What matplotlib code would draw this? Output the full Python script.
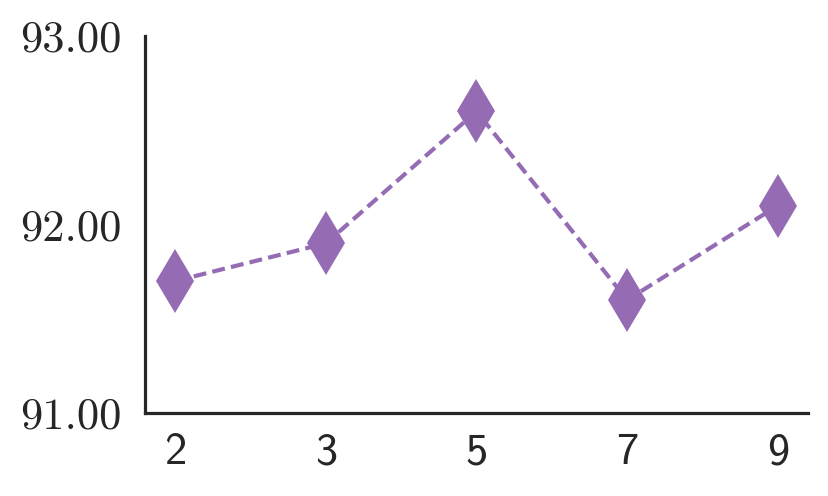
import os
import matplotlib
matplotlib.use("Agg")
import matplotlib.pyplot as plt
from matplotlib.font_manager import FontProperties

categories = ["2", "3", "5", "7", "9"]
values = [91.70, 91.90, 92.60, 91.60, 92.10]
yticks = [91.0, 92.0, 93.0]

fdir = os.path.join(matplotlib.get_data_path(), 'fonts', 'ttf')
serif_fp = FontProperties(fname=os.path.join(fdir, 'cmr10.ttf'), size=32)
sans_fp = FontProperties(fname=os.path.join(fdir, 'cmss10.ttf'), size=32)

fig = plt.figure(figsize=(8.29, 4.96), dpi=100)
ax = fig.add_axes([145/829, 1 - 413/496, (808-145)/829, (413-36)/496])

xs = list(range(len(categories)))
ax.plot(xs, values, linestyle='--', color='#956cb4', linewidth=3,
        marker='d', markersize=33, markeredgewidth=0, dashes=(3.1, 1.5))

ax.set_xlim(-0.2, 4.2)
ax.set_ylim(91.0, 93.0)
ax.set_xticks(xs)
ax.set_xticklabels(categories, fontproperties=sans_fp)
ax.set_yticks(yticks)
ax.set_yticklabels(['%.2f' % v for v in yticks], fontproperties=serif_fp)
ax.tick_params(axis='both', length=0, colors='#262626')
ax.tick_params(axis='x', pad=14)
ax.tick_params(axis='y', pad=17)
for s in ['top', 'right']:
    ax.spines[s].set_visible(False)
for s in ['left', 'bottom']:
    ax.spines[s].set_color('#262626')
    ax.spines[s].set_linewidth(2.3)

fig.savefig('out.png', dpi=100)
